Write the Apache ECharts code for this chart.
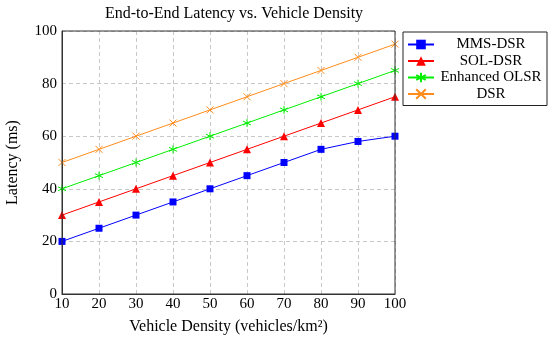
<!DOCTYPE html>
<html><head><meta charset="utf-8">
<script src="https://cdn.jsdelivr.net/npm/echarts@6/dist/echarts.min.js"></script>
<style>html,body{margin:0;padding:0;background:#fff}#c{width:550px;height:338px}</style>
</head><body><div id="c"></div>
<script>
const density = [10, 20, 30, 40, 50, 60, 70, 80, 90, 100];
const mmsDsr = [20, 25, 30, 35, 40, 45, 50, 55, 58, 60];
const solDsr = [30, 35, 40, 45, 50, 55, 60, 65, 70, 75];
const enhancedOlsr = [40, 45, 50, 55, 60, 65, 70, 75, 80, 85];
const dsr = [50, 55, 60, 65, 70, 75, 80, 85, 90, 95];
const seriesNames = ['MMS-DSR', 'SOL-DSR', 'Enhanced OLSR', 'DSR'];

const F = 'Liberation Serif';
const star = 'path://M0,-10L0,10M-8.66,-5L8.66,5M-8.66,5L8.66,-5';
const cross = 'path://M-7,-7L7,7M-7,7L7,-7';
function pts(arr){ return density.map((d,i)=>[d, arr[i]]); }
function mk(name, data, color, symbol, size, stroke){
  const s = {name, type:'line', data:pts(data), symbol, symbolSize:size,
    lineStyle:{color, width:1}, itemStyle:{color}, emphasis:{disabled:true}, z:3};
  if (stroke){ s.itemStyle = {color:'none', borderColor:color, borderWidth:1}; }
  return s;
}
const chart = echarts.init(document.getElementById('c'), null, {renderer:'canvas'});
chart.setOption({
  animation:false,
  title:{text:'End-to-End Latency vs. Vehicle Density', left:229, top:1, textAlign:'center',
    textStyle:{fontFamily:F, fontSize:16, fontWeight:'normal', color:'#000'}},
  grid:{left:62, right:155, top:31, bottom:44, containLabel:false, outerBoundsMode:'none'},
  legend:{left:403, top:32, orient:'vertical', itemWidth:26, itemHeight:12, itemGap:1.5,
    padding:[5,4,4,4], borderColor:'#222', borderWidth:1, data:seriesNames,
    formatter:function(n){ return '{c|' + n + '}'; },
    textStyle:{fontFamily:F, fontSize:15, color:'#000', lineHeight:14,
      rich:{c:{fontFamily:F, fontSize:15, color:'#000', width:104, align:'center', lineHeight:14}}}},
  xAxis:{type:'value', min:10, max:100, interval:10, name:'Vehicle Density (vehicles/km²)',
    nameLocation:'middle', nameGap:25, nameTextStyle:{fontFamily:F, fontSize:16, color:'#000'},
    axisLine:{show:true, onZero:false, lineStyle:{color:'#333'}}, axisTick:{show:false},
    axisLabel:{fontFamily:F, fontSize:15, color:'#000', margin:3},
    splitLine:{show:true, lineStyle:{type:[4,3], color:'#c8c8c8'}}},
  yAxis:{type:'value', min:0, max:100, interval:20, name:'Latency (ms)',
    nameLocation:'middle', nameGap:41, nameTextStyle:{fontFamily:F, fontSize:16, color:'#000'},
    axisLine:{show:true, lineStyle:{color:'#333'}}, axisTick:{show:false},
    axisLabel:{fontFamily:F, fontSize:15, color:'#000', margin:5},
    splitLine:{show:true, lineStyle:{type:[4,3], color:'#c8c8c8'}}},
  graphic:[{type:'rect', shape:{x:62, y:31, width:333, height:263}, style:{fill:'none', stroke:'#333', lineWidth:1}, silent:true, z:10}],
  series:[
    mk('MMS-DSR', mmsDsr, '#0000ff', 'rect', 7),
    mk('SOL-DSR', solDsr, '#ff0000', 'triangle', 8),
    mk('Enhanced OLSR', enhancedOlsr, '#00ee00', star, 8, true),
    mk('DSR', dsr, '#ff8c1a', cross, 7, true)
  ]
});
</script></body></html>
